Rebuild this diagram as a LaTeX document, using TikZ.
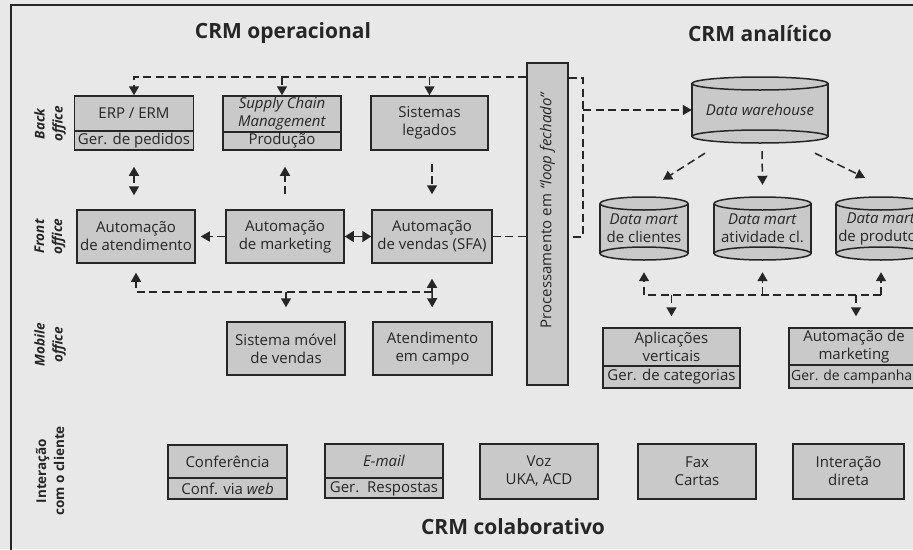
\documentclass[tikz,border=0pt]{standalone}
\usepackage{fontspec}
\setmainfont{Open Sans}
\usetikzlibrary{arrows.meta,calc}

\definecolor{paper}{gray}{0.91}
\definecolor{boxgray}{gray}{0.79}
\definecolor{ink}{gray}{0.15}

\tikzset{
  every node/.style={text=ink},
  box/.style={draw=ink, line width=1.5pt, fill=boxgray, inner sep=0pt,
    font=\fontsize{15}{18}\selectfont, align=center},
  txt/.style={font=\fontsize{15}{18}\selectfont, align=center, inner sep=0pt},
  divider/.style={draw=ink, line width=1.3pt},
  cylline/.style={draw=ink, line width=1.5pt},
  title/.style={font=\fontsize{21}{24}\selectfont\bfseries, inner sep=0pt},
  side/.style={font=\fontsize{13.5}{18}\selectfont\bfseries, align=center,
    rotate=90, inner sep=0pt},
  sideit/.style={side, font=\fontsize{13.5}{18}\selectfont\bfseries\itshape},
  dashline/.style={draw=ink, line width=1.5pt, dash pattern=on 8pt off 4.5pt},
  dasharrow/.style={dashline, -{Triangle[length=9pt,width=10pt]}},
  dasharrowboth/.style={dashline, {Triangle[length=9pt,width=10pt]}-{Triangle[length=9pt,width=10pt]}},
  solidboth/.style={draw=ink, line width=1.5pt, {Triangle[length=9pt,width=11pt]}-{Triangle[length=9pt,width=11pt]}},
}

% database cylinder: name, cx, cy, half width, height, text
\newcommand{\dbcyl}[6]{%
  \fill[boxgray] (#2-#4,#3-#5/2+6.5) rectangle (#2+#4,#3+#5/2-6.5);
  \draw[cylline, fill=boxgray] (#2,#3+#5/2-6.5) ellipse [x radius=#4pt, y radius=6.5pt];
  \draw[cylline] (#2-#4,#3-#5/2+6.5) -- (#2-#4,#3+#5/2-6.5)
                 (#2+#4,#3-#5/2+6.5) -- (#2+#4,#3+#5/2-6.5);
  \draw[cylline, fill=boxgray] (#2,#3-#5/2+6.5) ellipse [x radius=#4pt, y radius=6.5pt];
  \node[txt, minimum width=2*#4, minimum height=#5] (#1) at (#2,#3) {#6};
}

\begin{document}
\begin{tikzpicture}[x=1pt, y=-1pt]
  \fill[paper] (0,0) rectangle (913,549);
  \useasboundingbox (0,0) rectangle (913,549);

  % page frame
  \draw[ink, line width=2.6pt] (11,551) -- (11,5) -- (915,5);

  % section titles
  \node[title] (topr) at (283,33) {CRM operacional};
  \node[title] (topa) at (760,34) {CRM analítico};
  \node[title] (topc) at (513,527) {CRM colaborativo};

  % row labels
  \node[sideit] (lback)  at (50,124)   {Back\\office};
  \node[sideit] (lfront) at (50,236.5) {Front\\office};
  \node[sideit] (lmob)   at (50,345)   {Mobile\\office};
  \node[side]   (lint)   at (50,471)   {Interação\\com o cliente};

  % closed loop processing column
  \node[box, minimum width=41, minimum height=322] (col) at (547.5,224) {};
  \node[txt, rotate=90] (coltxt) at (547.5,210) {Processamento em \textit{“loop fechado”}};

  % back office
  \node[box, minimum width=119, minimum height=54] (erp) at (134,123) {};
  \draw[divider] (erp.west |- 0,131) -- (erp.east |- 0,131);
  \node[txt] (erpa) at (134,113.5) {ERP / ERM};
  \node[txt] (erpb) at (134,140.5) {Ger. de pedidos};

  \node[box, minimum width=118, minimum height=54] (scm) at (282,123) {};
  \draw[divider] (scm.west |- 0,132) -- (scm.east |- 0,132);
  \node[txt] (scma) at (282,113.5) {\textit{Supply Chain}\\\textit{Management}};
  \node[txt] (scmb) at (282,141) {Produção};

  \node[box, minimum width=117, minimum height=54] (leg) at (429.5,123) {Sistemas\\legados};

  % front office
  \node[box, minimum width=118, minimum height=53] (atd) at (136,236.5) {Automação\\de atendimento};
  \node[box, minimum width=118, minimum height=53] (mkt) at (285,236.5) {Automação\\de marketing};
  \node[box, minimum width=120, minimum height=53] (sfa) at (432,236.5) {Automação\\de vendas (SFA)};

  % mobile office
  \node[box, minimum width=118, minimum height=53] (smv) at (286,348.5) {Sistema móvel\\de vendas};
  \node[box, minimum width=119, minimum height=53] (cmp) at (432.5,348.5) {Atendimento\\em campo};

  % customer interaction
  \node[box, minimum width=119, minimum height=54] (conf) at (227.5,472) {};
  \draw[divider] (conf.west |- 0,478) -- (conf.east |- 0,478);
  \node[txt] (confa) at (227.5,462) {Conferência};
  \node[txt] (confb) at (227.5,489) {Conf. via \textit{web}};

  \node[box, minimum width=118, minimum height=54] (mail) at (384,471) {};
  \draw[divider] (mail.west |- 0,478) -- (mail.east |- 0,478);
  \node[txt] (maila) at (384,461) {\textit{E-mail}};
  \node[txt] (mailb) at (384,488.5) {Ger.\ \ Respostas};

  \node[box, minimum width=118, minimum height=55] (voz) at (539,471.5) {Voz\\UKA, ACD};
  \node[box, minimum width=118, minimum height=55] (fax) at (697,471.5) {Fax\\Cartas};
  \node[box, minimum width=111, minimum height=55] (dir) at (848.5,471.5) {Interação\\direta};

  % analytical side
  \dbcyl{dw}{760}{110}{68}{66}{\textit{Data warehouse}}
  \dbcyl{dma}{644}{228.5}{44}{63}{\textit{Data mart}\\de clientes}
  \dbcyl{dmb}{762.5}{228.5}{48.5}{63}{\textit{Data mart}\\atividade cl.}
  \dbcyl{dmc}{881}{228.5}{45}{63}{\textit{Data mart}\\de produtos}

  \node[box, minimum width=137, minimum height=60] (apl) at (671.5,358) {};
  \draw[divider] (apl.west |- 0,366) -- (apl.east |- 0,366);
  \node[txt] (apla) at (671.5,347) {Aplicações\\verticais};
  \node[txt] (aplb) at (671.5,377) {Ger. de categorias};

  \node[box, minimum width=136, minimum height=60] (am) at (857,358) {};
  \draw[divider] (am.west |- 0,365) -- (am.east |- 0,365);
  \node[txt] (ama) at (854,346.5) {Automação de\\marketing};
  \node[txt, font=\fontsize{14}{18}\selectfont] (amb) at (855,377) {Ger. de campanhas};

  % helper rails
  \coordinate (tp) at (0,77);
  \coordinate (fb) at (0,292);
  \coordinate (ab) at (0,295);
  \coordinate (b1) at (583,78);
  \coordinate (b2) at (583,237);

  % loop: top distribution to back office
  \draw[dasharrow] (col.west |- tp) -- (erp.north |- tp) -- (erp.north);
  \draw[dasharrow] (scm.north |- tp) -- (scm.north);
  \draw[dasharrow] (leg.north |- tp) -- (leg.north);

  % loop: sales automation into column, bracket to warehouse
  \draw[dashline] (sfa.east) -- (sfa.east -| col.west);
  \draw[dashline] (col.east |- b1) -- (b1) -- (b2) -- (col.east |- b2);
  \draw[dasharrow] (b1 |- dw.west) -- (dw.west);

  % back office <-> front office
  \draw[dasharrowboth, shorten <=16pt, shorten >=14pt] (erp.south) -- (erp.south |- atd.north);
  \draw[dasharrow, shorten <=15pt, shorten >=16pt] (mkt.north) -- (mkt.north |- scm.south);
  \draw[dasharrow, shorten <=13pt, shorten >=15pt] (sfa.north |- leg.south) -- (sfa.north);

  % inside front office
  \draw[dasharrow, shorten >=5pt] (mkt.west) -- (atd.east);
  \draw[solidboth] (mkt.east) -- (sfa.west);

  % front office <-> mobile office
  \draw[dasharrow, shorten >=9pt] (sfa.south |- fb) -- (atd.south |- fb) -- (atd.south);
  \draw[dasharrow, shorten >=15pt] (sfa.south |- fb) -- (sfa.south);
  \draw[dasharrow, shorten >=14pt] (sfa.south |- fb) -- (cmp.north);
  \draw[dasharrow, shorten >=14pt] (smv.north |- fb) -- (smv.north);

  % warehouse to data marts
  \draw[dasharrow] ([xshift=-55pt,yshift=-10pt]dw.south) -- ([xshift=19pt,yshift=17pt]dma.north);
  \draw[dasharrow] ([xshift=2pt,yshift=-8pt]dw.south) -- ([xshift=0pt,yshift=12pt]dmb.north);
  \draw[dasharrow] ([xshift=55pt,yshift=-10pt]dw.south) -- ([xshift=-16pt,yshift=19pt]dmc.north);

  % data marts <-> analytical applications
  \draw[dasharrow, shorten >=12pt] (dmc.south |- ab) -- (dma.south |- ab) -- (dma.south);
  \draw[dasharrow, shorten >=12pt] (dmb.south |- ab) -- (dmb.south);
  \draw[dasharrow, shorten >=12pt] (dmc.south |- ab) -- (dmc.south);
  \draw[dasharrow, shorten >=11pt] (apl.north |- ab) -- (apl.north);
  \draw[dasharrow, shorten >=11pt] ([xshift=-1pt]am.north |- ab) -- ([xshift=-1pt]am.north);
\end{tikzpicture}
\end{document}
